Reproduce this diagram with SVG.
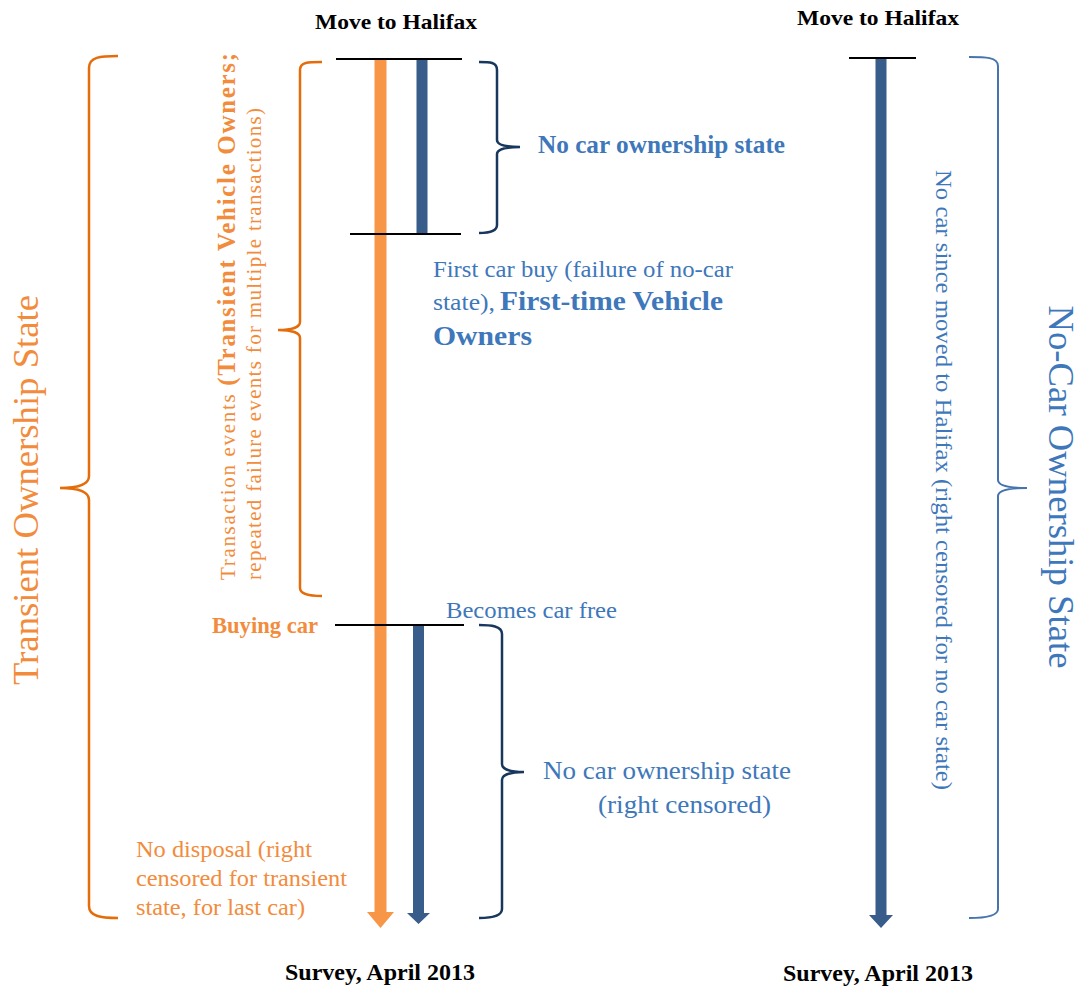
<svg xmlns="http://www.w3.org/2000/svg" width="1082" height="989" viewBox="0 0 1082 989">
<style>
text{font-family:"Liberation Serif","Times New Roman",serif;}
.blk{fill:#000;font-weight:bold;}
.or{fill:#F28C3C;}
.bl{fill:#3E77BA;}
.b{font-weight:bold;}
.brO{fill:none;stroke:#E46C0A;stroke-width:2.5;}
.brN{fill:none;stroke:#17375E;stroke-width:2.5;}
.brB{fill:none;stroke:#4674AE;stroke-width:2;}
.tick{stroke:#000;stroke-width:2;}
.barO{fill:#F79646;}
.barB{fill:#385D8A;}
</style>
<rect width="1082" height="989" fill="#fff"/>

<g id="connectors">
  <path class="barO" d="M374.5,59 H386.5 V912 H394 L380.5,928 L367,912 H374.5 Z"/>
  <rect class="barB" x="416.5" y="59" width="11" height="175"/>
  <path class="barB" d="M413,625 H424 V913 H430 L418.5,924 L407,913 H413 Z"/>
  <path class="barB" d="M875.5,59 H886.5 V915 H893 L881,928 L869,915 H875.5 Z"/>
  <line class="tick" x1="336" y1="59" x2="462" y2="59"/>
  <line class="tick" x1="350" y1="234" x2="461" y2="234"/>
  <line class="tick" x1="335" y1="625" x2="464" y2="625"/>
  <line class="tick" x1="849" y1="58" x2="916" y2="58"/>
</g>

<g id="brace-transient-state">
  <path class="brO" d="M118,56 C100,56 89,57 89,68 L89,476 C89,484 80,488 60,488 C80,488 89,492 89,500 L89,906 C89,916 100,918 118,918"/>
  <text class="or" transform="translate(38,490) rotate(-90)" text-anchor="middle" font-size="36" textLength="390" lengthAdjust="spacingAndGlyphs">Transient Ownership State</text>
</g>

<g id="brace-transaction-events">
  <path class="brO" d="M322,62 C308,62 300,62 300,70 L300,322 C300,327 292,330 278,330 C292,330 300,333 300,338 L300,588 C300,594 308,596 322,596"/>
  <text class="or" transform="translate(235,580) rotate(-90)" font-size="21" textLength="527" lengthAdjust="spacing">Transaction events <tspan class="b" font-size="25">(Transient Vehicle Owners;</tspan></text>
  <text class="or" transform="translate(261,580) rotate(-90)" font-size="21" textLength="472" lengthAdjust="spacing">repeated failure events for multiple transactions)</text>
</g>

<g id="move-left">
  <text class="blk" x="396" y="29" text-anchor="middle" font-size="22" textLength="162" lengthAdjust="spacingAndGlyphs">Move to Halifax</text>
</g>

<g id="no-car-state-top">
  <path class="brN" d="M479,62 C490,62 497,62 497,70 L497,140 C497,145 505,147 520,147 C505,147 497,149 497,154 L497,225 C497,231 490,233 479,233"/>
  <text class="bl b" x="538" y="153" font-size="25" textLength="247" lengthAdjust="spacingAndGlyphs">No car ownership state</text>
</g>

<g id="first-car-buy">
  <text class="bl" x="433" y="277" font-size="24" textLength="300" lengthAdjust="spacingAndGlyphs">First car buy (failure of no-car</text>
  <text class="bl" x="433" y="310" font-size="24" textLength="62" lengthAdjust="spacingAndGlyphs">state),</text>
  <text class="bl b" x="500" y="310" font-size="28" textLength="223" lengthAdjust="spacingAndGlyphs">First-time Vehicle</text>
  <text class="bl b" x="433" y="345" font-size="28" textLength="99" lengthAdjust="spacingAndGlyphs">Owners</text>
</g>

<g id="buying-car">
  <text class="or b" x="212" y="633" font-size="23" textLength="106" lengthAdjust="spacingAndGlyphs">Buying car</text>
</g>

<g id="becomes-car-free">
  <text class="bl" x="446" y="618" font-size="24" textLength="171" lengthAdjust="spacingAndGlyphs">Becomes car free</text>
</g>

<g id="no-car-state-bottom">
  <path class="brN" d="M479,625 C491,625 502,626 502,634 L502,764 C502,769 510,772 524,772 C510,772 502,775 502,780 L502,909 C502,916 491,918 479,918"/>
  <text class="bl" x="543" y="779" font-size="26" textLength="248" lengthAdjust="spacingAndGlyphs">No car ownership state</text>
  <text class="bl" x="598" y="813" font-size="26" textLength="173" lengthAdjust="spacingAndGlyphs">(right censored)</text>
</g>

<g id="no-disposal">
  <text class="or" x="136" y="857" font-size="24" textLength="176" lengthAdjust="spacingAndGlyphs">No disposal (right</text>
  <text class="or" x="136" y="886" font-size="24" textLength="211" lengthAdjust="spacingAndGlyphs">censored  for transient</text>
  <text class="or" x="136" y="915" font-size="24" textLength="169" lengthAdjust="spacingAndGlyphs">state, for last car)</text>
</g>

<g id="survey-left">
  <text class="blk" x="380" y="980" text-anchor="middle" font-size="24" textLength="190" lengthAdjust="spacingAndGlyphs">Survey, April 2013</text>
</g>

<g id="move-right">
  <text class="blk" x="878" y="25" text-anchor="middle" font-size="22" textLength="162" lengthAdjust="spacingAndGlyphs">Move to Halifax</text>
</g>

<g id="no-car-since-moved">
  <text class="bl" transform="translate(936,170) rotate(90)" font-size="23" textLength="620" lengthAdjust="spacingAndGlyphs">No car since moved to Halifax (right censored for no car state)</text>
</g>

<g id="brace-no-car-state">
  <path class="brB" d="M969,57 C985,57 998,57 998,66 L998,480 C998,485 1008,488 1027,488 C1008,488 998,491 998,496 L998,909 C998,916 985,918 969,918"/>
  <text class="bl" transform="translate(1049,487) rotate(90)" text-anchor="middle" font-size="35" textLength="363" lengthAdjust="spacingAndGlyphs">No-Car Ownership State</text>
</g>

<g id="survey-right">
  <text class="blk" x="878" y="981" text-anchor="middle" font-size="24" textLength="190" lengthAdjust="spacingAndGlyphs">Survey, April 2013</text>
</g>
</svg>
